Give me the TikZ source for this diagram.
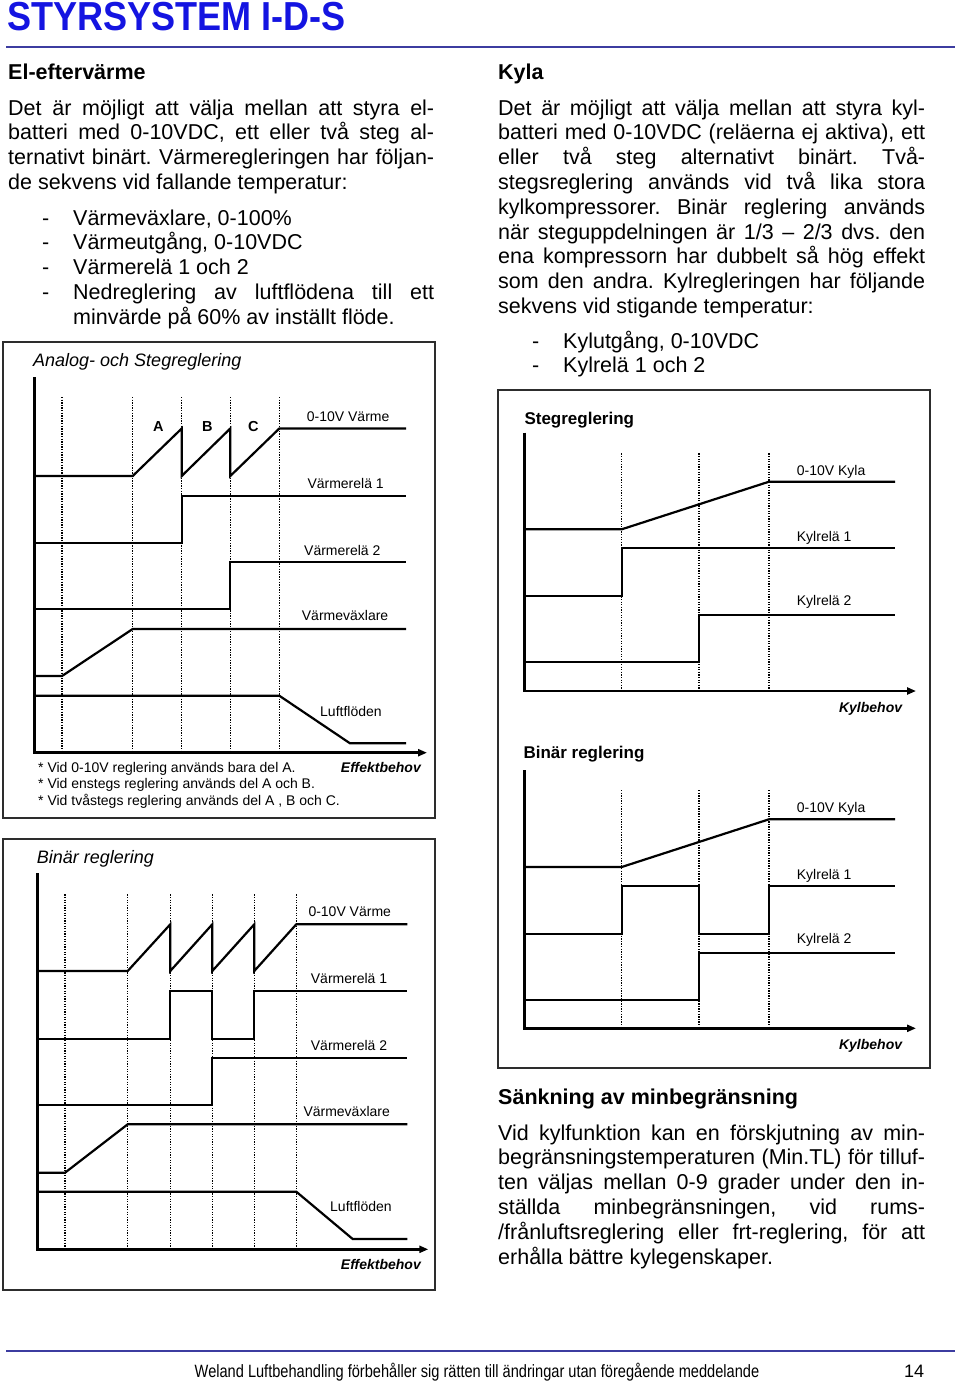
\documentclass[tikz,border=0pt]{standalone}
\usepackage{fontspec}
\setmainfont{Liberation Sans}
\definecolor{titleblue}{RGB}{20, 20, 225}
\definecolor{rulecol}{RGB}{60, 60, 160}
\definecolor{framegray}{RGB}{45, 45, 45}
\usetikzlibrary{arrows.meta}
\newcommand{\listdash}{\noindent\hangindent=31pt\hangafter=1\strut\makebox[31pt][l]{-}}
\tikzset{
    signal/.style={line width=2.2pt, line join=miter},
    axisline/.style={line width=2.8pt, -{Triangle[length=9pt, width=7pt]}},
    dotline/.style={line width=1.4pt, dash pattern=on 1.3pt off 1.3pt},
    panelframe/.style={draw=framegray, line width=2pt},
    curvelbl/.style={anchor=base west, inner sep=0pt, font=\fontsize{14}{16}\selectfont},
    partlbl/.style={anchor=base, inner sep=0pt, font=\fontsize{14.5}{16}\selectfont\bfseries},
    needlbl/.style={anchor=base east, inner sep=0pt, font=\fontsize{14}{16}\selectfont\bfseries\itshape},
    italtitle/.style={anchor=base west, inner sep=0pt, font=\fontsize{18}{20}\selectfont\itshape},
    boldtitle/.style={anchor=base west, inner sep=0pt, font=\fontsize{17}{20}\selectfont\bfseries},
    headtext/.style={anchor=base west, inner sep=0pt, font=\fontsize{21.5}{24}\selectfont\bfseries},
    bodytext/.style={anchor=north west, inner sep=0pt, align=justify,
        font=\fontsize{21.5}{24.8}\selectfont\frenchspacing},
    pagerule/.style={draw=rulecol, line width=2pt}
}
\begin{document}
\begin{tikzpicture}[x=1pt, y=-1pt]
    \path[fill=white] (0,0) rectangle (960,1381);
    \useasboundingbox (0,0) rectangle (960,1381);

    % page head
    \node[anchor=base west, inner sep=0pt, text=titleblue,
        font=\fontsize{40.5}{42}\selectfont\bfseries] (pagetitle) at (7,31)
        {\scalebox{0.89}[1]{STYRSYSTEM I-D-S}};
    \draw[pagerule] (6,47) -- (955,47);

    % left column text
    \node[headtext] (elhead) at (8,80) {El-eftervärme};
    \node[bodytext, text width=426pt] (eltext) at (8,97.6)
        {\strut Det är möjligt att välja mellan att styra el-\linebreak
        batteri med 0-10VDC, ett eller två steg al-\linebreak
        ternativt binärt. Värmeregleringen har följan-\linebreak
        de sekvens vid fallande temperatur:};
    \node[bodytext, text width=392pt] (ellist) at (42,207.6)
        {\listdash Värmeväxlare, 0-100\%\par
        \listdash Värmeutgång, 0-10VDC\par
        \listdash Värmerelä 1 och 2\par
        \listdash Nedreglering av luftflödena till ett\linebreak
        minvärde på 60\% av inställt flöde.\par};

    % right column text
    \node[headtext] (kylhead) at (498,80) {Kyla};
    \node[bodytext, text width=427pt] (kyltext) at (498,97.6)
        {\strut Det är möjligt att välja mellan att styra kyl-\linebreak
        batteri med 0-10VDC (reläerna ej aktiva), ett\linebreak
        eller två steg alternativt binärt. Två-\linebreak
        stegsreglering används vid två lika stora\linebreak
        kylkompressorer. Binär reglering används\linebreak
        när steguppdelningen är 1/3 -- 2/3 dvs. den\linebreak
        ena kompressorn har dubbelt så hög effekt\linebreak
        som den andra. Kylregleringen har följande\linebreak
        sekvens vid stigande temperatur:};
    \node[bodytext, text width=393pt] (kyllist) at (532,330.6)
        {\listdash Kylutgång, 0-10VDC\par
        \listdash Kylrelä 1 och 2\par};

    % analog- och stegreglering, värme
    \draw[panelframe] (3,342) rectangle (435,818);
    \node[italtitle] (analogtitle) at (33,366.5) {Analog- och Stegreglering};
    \foreach \x in {62,132.7,181.7,230.3,279.3}
        \draw[dotline] (\x,397) -- (\x,752.7);
    \draw[axisline] (34.5,377) -- (34.5,752.7) -- (427,752.7);
    \draw[signal] (34.5,476) -- (132.7,476) -- (181.7,428.5) -- (181.7,476)
        -- (230.3,428.5) -- (230.3,476) -- (279.3,428.5) -- (406,428.5);
    \draw[signal] (34.5,542.7) -- (181.7,542.7) -- (181.7,495.7) -- (406,495.7);
    \draw[signal] (34.5,609.3) -- (230.3,609.3) -- (230.3,561.7) -- (406,561.7);
    \draw[signal] (34.5,676) -- (62,676) -- (132.7,629) -- (406,629);
    \draw[signal] (34.5,695.7) -- (279.3,695.7) -- (350,743.3) -- (406,743.3);
    \node[partlbl] (partA) at (158.3,431.5) {A};
    \node[partlbl] (partB) at (207.3,431.5) {B};
    \node[partlbl] (partC) at (253.3,431.5) {C};
    \node[curvelbl] (avarme) at (306.7,421.5) {0-10V Värme};
    \node[curvelbl] (arele1) at (307.3,488.5) {Värmerelä 1};
    \node[curvelbl] (arele2) at (304,555.5) {Värmerelä 2};
    \node[curvelbl] (avvx) at (301.7,620.5) {Värmeväxlare};
    \node[curvelbl] (aluft) at (320,716) {Luftflöden};
    \node[needlbl] (aneed) at (421,772) {Effektbehov};
    \node[curvelbl] (anote1) at (38,772) {* Vid 0-10V reglering används bara del A.};
    \node[curvelbl] (anote2) at (38,788.5) {* Vid enstegs reglering används del A och B.};
    \node[curvelbl] (anote3) at (38,805) {* Vid tvåstegs reglering används del A , B och C.};

    % binär reglering, värme
    \draw[panelframe] (3,839) rectangle (435,1290);
    \node[italtitle] (bintitle) at (36.7,863) {Binär reglering};
    \foreach \x in {65,127.7,170.3,212.3,254.3,296.3}
        \draw[dotline] (\x,894.3) -- (\x,1249.3);
    \draw[axisline] (37.7,873.3) -- (37.7,1249.3) -- (428.3,1249.3);
    \draw[signal] (37.7,971) -- (127.7,971) -- (170.3,924.3) -- (170.3,971)
        -- (212.3,924.3) -- (212.3,971) -- (254.3,924.3) -- (254.3,971)
        -- (296.3,924.3) -- (407.3,924.3);
    \draw[signal] (37.7,1039) -- (170.3,1039) -- (170.3,991) -- (212.3,991)
        -- (212.3,1039) -- (254.3,1039) -- (254.3,991) -- (407.3,991);
    \draw[signal] (37.7,1105) -- (212.3,1105) -- (212.3,1057.7) -- (407.3,1057.7);
    \draw[signal] (37.7,1172.7) -- (65,1172.7) -- (127.7,1124.3) -- (407.3,1124.3);
    \draw[signal] (37.7,1191.7) -- (296.3,1191.7) -- (352.7,1239) -- (407.3,1239);
    \node[curvelbl] (bvarme) at (308.3,916.7) {0-10V Värme};
    \node[curvelbl] (brele1) at (310.7,983.5) {Värmerelä 1};
    \node[curvelbl] (brele2) at (310.7,1050) {Värmerelä 2};
    \node[curvelbl] (bvvx) at (303.3,1116.7) {Värmeväxlare};
    \node[curvelbl] (bluft) at (330,1211.7) {Luftflöden};
    \node[needlbl] (bneed) at (421,1269) {Effektbehov};

    % kyla, steg och binär
    \draw[panelframe] (498,390) rectangle (930,1068);
    \node[boldtitle] (stegtitle) at (524.3,424) {Stegreglering};
    \foreach \x in {621.7,699,769}
        \draw[dotline] (\x,453.3) -- (\x,691);
    \draw[axisline] (524.3,432.7) -- (524.3,691) -- (916,691);
    \draw[signal] (524.3,529.3) -- (621.7,529.3) -- (769,481.7) -- (895,481.7);
    \draw[signal] (524.3,596) -- (621.7,596) -- (621.7,548.3) -- (895,548.3);
    \draw[signal] (524.3,662.3) -- (699,662.3) -- (699,615) -- (895,615);
    \node[curvelbl] (skyla) at (796.7,475.5) {0-10V Kyla};
    \node[curvelbl] (srele1) at (796.7,541.7) {Kylrelä 1};
    \node[curvelbl] (srele2) at (796.7,605) {Kylrelä 2};
    \node[needlbl] (sneed) at (902.3,712.5) {Kylbehov};

    \node[boldtitle] (binkyltitle) at (523.3,758) {Binär reglering};
    \foreach \x in {621.7,699,769}
        \draw[dotline] (\x,790) -- (\x,1028.3);
    \draw[axisline] (524.3,770) -- (524.3,1028.3) -- (916,1028.3);
    \draw[signal] (524.3,867) -- (621.7,867) -- (769,819.3) -- (895,819.3);
    \draw[signal] (524.3,933.7) -- (621.7,933.7) -- (621.7,886) -- (699,886)
        -- (699,933.7) -- (769,933.7) -- (769,886) -- (895,886);
    \draw[signal] (524.3,1000.3) -- (699,1000.3) -- (699,952.7) -- (895,952.7);
    \node[curvelbl] (bkyla) at (796.7,812.7) {0-10V Kyla};
    \node[curvelbl] (bkrele1) at (796.7,879.3) {Kylrelä 1};
    \node[curvelbl] (bkrele2) at (796.7,943) {Kylrelä 2};
    \node[needlbl] (bkneed) at (902.3,1049) {Kylbehov};

    % sänkning av minbegränsning
    \node[headtext] (minhead) at (498,1104) {Sänkning av minbegränsning};
    \node[bodytext, text width=427pt] (mintext) at (498,1122.6)
        {\strut Vid kylfunktion kan en förskjutning av min-\linebreak
        begränsningstemperaturen (Min.TL) för tilluf-\linebreak
        ten väljas mellan 0-9 grader under den in-\linebreak
        ställda minbegränsningen, vid rums-\linebreak
        /frånluftsreglering eller frt-reglering, för att\linebreak
        erhålla bättre kylegenskaper.};

    % page foot
    \draw[pagerule] (6,1351) -- (955,1351);
    \node[anchor=base, inner sep=0pt, font=\fontsize{17.8}{20}\selectfont] (footline)
        at (477,1377) {\scalebox{0.82}[1]{Weland Luftbehandling förbehåller sig rätten till ändringar utan föregående meddelande}};
    \node[anchor=base west, inner sep=0pt, font=\fontsize{18}{20}\selectfont] (pagenum)
        at (904,1377) {14};
\end{tikzpicture}
\end{document}
